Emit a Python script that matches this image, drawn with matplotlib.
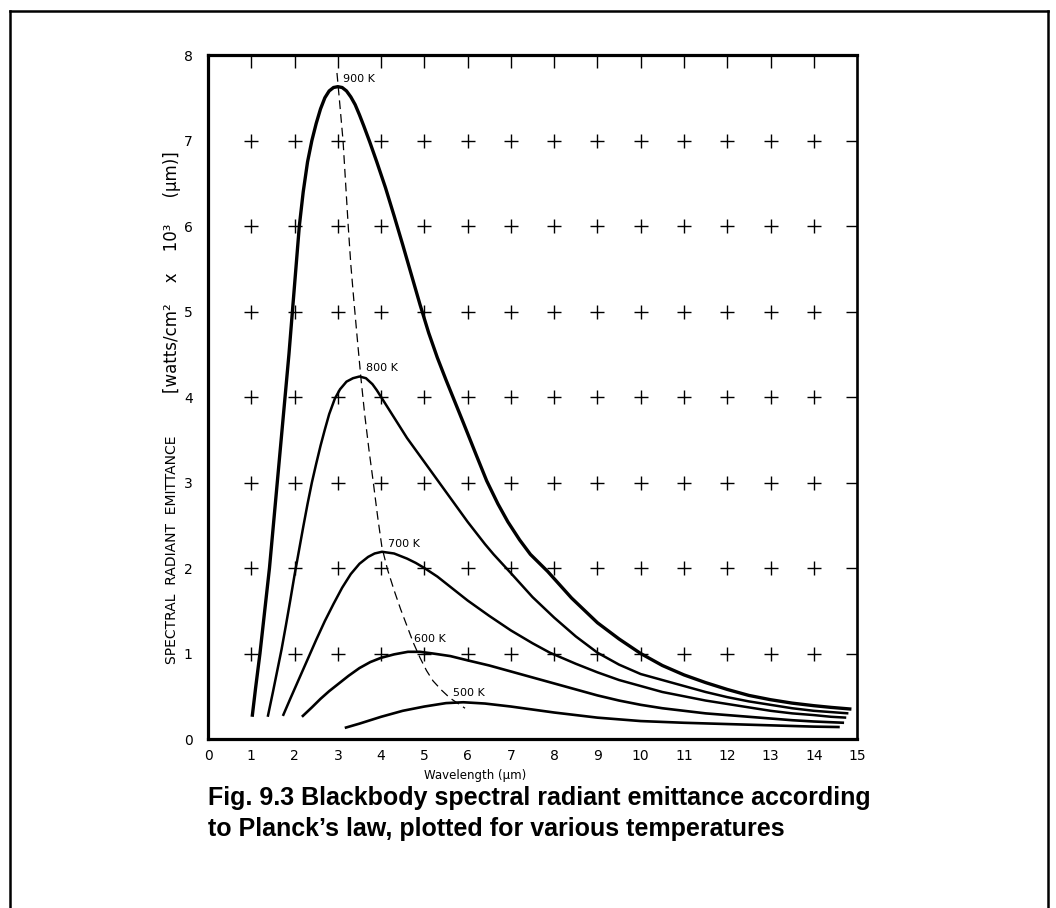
import numpy as np
import matplotlib
matplotlib.use("Agg")
import matplotlib.pyplot as plt
from matplotlib.lines import Line2D

# curves (wavelength in um, emittance)
x900 = [1.02, 1.10, 1.20, 1.31, 1.42, 1.51, 1.60, 1.69, 1.78, 1.87, 1.95, 2.03, 2.11, 2.20,
        2.30, 2.40, 2.50, 2.60, 2.70, 2.80, 2.90, 3.00, 3.10, 3.20, 3.30, 3.40, 3.50, 3.60,
        3.74, 3.90, 4.10, 4.30, 4.50, 4.70, 4.90, 5.10, 5.30, 5.50, 5.66, 5.90, 6.20, 6.44,
        6.70, 6.93, 7.20, 7.45, 7.85, 8.40, 9.00, 9.50, 10.0, 10.5, 11.0, 11.5, 12.0, 12.5,
        13.0, 13.5, 14.0, 14.4, 14.87]
y900 = [0.26, 0.60, 1.00, 1.50, 2.00, 2.50, 3.00, 3.50, 4.00, 4.50, 5.00, 5.50, 6.00, 6.40,
        6.75, 7.00, 7.20, 7.37, 7.50, 7.58, 7.62, 7.63, 7.62, 7.58, 7.51, 7.42, 7.30, 7.17,
        6.98, 6.75, 6.45, 6.12, 5.78, 5.43, 5.08, 4.75, 4.46, 4.20, 4.00, 3.70, 3.32, 3.02,
        2.75, 2.54, 2.33, 2.16, 1.96, 1.65, 1.36, 1.17, 1.00, 0.86, 0.75, 0.66, 0.58, 0.51,
        0.46, 0.42, 0.39, 0.37, 0.35]

x800 = [1.38, 1.50, 1.60, 1.70, 1.80, 1.90, 2.00, 2.10, 2.20, 2.30, 2.40, 2.50, 2.60, 2.70,
        2.80, 2.93, 3.05, 3.20, 3.35, 3.50, 3.65, 3.80, 3.90, 4.00, 4.20, 4.40, 4.60, 4.80,
        5.00, 5.20, 5.40, 5.60, 5.80, 6.00, 6.20, 6.40, 6.60, 7.00, 7.50, 8.00, 8.50, 9.00,
        9.50, 10.0, 10.5, 11.0, 11.5, 12.0, 12.5, 13.0, 13.5, 14.0, 14.4, 14.8]
y800 = [0.26, 0.55, 0.80, 1.05, 1.33, 1.62, 1.92, 2.20, 2.48, 2.75, 3.00, 3.22, 3.43, 3.62,
        3.80, 3.98, 4.09, 4.18, 4.22, 4.24, 4.22, 4.15, 4.08, 4.00, 3.84, 3.68, 3.52, 3.38,
        3.24, 3.10, 2.96, 2.82, 2.68, 2.54, 2.41, 2.28, 2.16, 1.94, 1.66, 1.42, 1.20, 1.01,
        0.87, 0.76, 0.69, 0.62, 0.55, 0.49, 0.44, 0.40, 0.36, 0.33, 0.315, 0.30]

x700 = [1.73, 1.90, 2.10, 2.30, 2.50, 2.70, 2.90, 3.10, 3.30, 3.50, 3.70, 3.85, 4.02, 4.30,
        4.60, 4.80, 5.00, 5.30, 5.60, 6.00, 6.50, 7.00, 7.50, 7.90, 8.50, 9.00, 9.50, 10.0,
        10.5, 11.0, 11.5, 12.0, 12.5, 13.0, 13.5, 14.0, 14.4, 14.75]
y700 = [0.27, 0.47, 0.70, 0.93, 1.16, 1.38, 1.58, 1.77, 1.93, 2.05, 2.13, 2.17, 2.19, 2.17,
        2.11, 2.06, 2.00, 1.90, 1.78, 1.62, 1.44, 1.27, 1.12, 1.01, 0.88, 0.78, 0.69, 0.62,
        0.55, 0.50, 0.45, 0.41, 0.37, 0.33, 0.30, 0.28, 0.26, 0.25]

x600 = [2.17, 2.40, 2.60, 2.80, 3.00, 3.25, 3.50, 3.75, 4.00, 4.30, 4.62, 4.90, 5.20, 5.60,
        6.00, 6.50, 7.00, 7.50, 8.00, 8.50, 9.00, 9.50, 10.0, 10.5, 11.0, 11.5, 12.0, 12.5,
        13.0, 13.5, 14.0, 14.7]
y600 = [0.26, 0.37, 0.47, 0.56, 0.64, 0.74, 0.83, 0.90, 0.95, 0.99, 1.02, 1.02, 1.00, 0.97,
        0.92, 0.86, 0.79, 0.72, 0.65, 0.58, 0.51, 0.45, 0.40, 0.36, 0.33, 0.30, 0.28, 0.26,
        0.24, 0.22, 0.205, 0.19]

x500 = [3.16, 3.50, 4.00, 4.50, 5.00, 5.50, 5.90, 6.40, 7.00, 7.50, 8.00, 8.50, 9.00, 9.50,
        10.0, 10.5, 11.0, 12.0, 13.0, 14.0, 14.6]
y500 = [0.13, 0.18, 0.26, 0.33, 0.38, 0.42, 0.43, 0.415, 0.38, 0.345, 0.31, 0.28, 0.25, 0.23,
        0.21, 0.20, 0.19, 0.175, 0.16, 0.145, 0.14]

# locus of the maxima (dashed)
x_peak = [2.98, 3.05, 3.12, 3.18, 3.24, 3.30, 3.37, 3.45, 3.53, 3.62, 3.72, 3.82, 3.92, 4.02,
          4.15, 4.30, 4.45, 4.60, 4.75, 4.90, 5.05, 5.20, 5.40, 5.59, 5.94]
y_peak = [7.79, 7.40, 7.00, 6.50, 6.00, 5.55, 5.13, 4.68, 4.24, 3.80, 3.38, 3.00, 2.60, 2.24,
          1.98, 1.74, 1.52, 1.32, 1.12, 0.95, 0.80, 0.68, 0.57, 0.48, 0.36]

temps = ["900 K", "800 K", "700 K", "600 K", "500 K"]
label_x = [3.12, 3.65, 4.16, 4.76, 5.66]
label_y = [7.72, 4.34, 2.28, 1.17, 0.54]

xticks = list(range(0, 16))
yticks = list(range(0, 9))

fig = plt.figure(figsize=(10.56, 9.08), dpi=100)
ax = fig.add_axes([0.197, 0.1861, 0.6146, 0.7533])

# crosses at the inner grid points
gx, gy = np.meshgrid(range(1, 15), range(1, 8))
ax.scatter(gx.ravel(), gy.ravel(), marker="+", s=90, c="black", linewidths=1.0, zorder=2)

curves = [(x900, y900, 2.4), (x800, y800, 1.8), (x700, y700, 1.8), (x600, y600, 1.9), (x500, y500, 1.9)]
for xs, ys, lw in curves:
    ax.plot(xs, ys, color="black", lw=lw, solid_capstyle="butt", solid_joinstyle="round", zorder=3)

ax.plot(x_peak, y_peak, color="black", lw=0.9, ls=(0, (7, 4)), zorder=3)

for t, lx, ly in zip(temps, label_x, label_y):
    ax.text(lx, ly, t, fontsize=8, va="center", ha="left")

ax.set_xlim(0, 15)
ax.set_ylim(0, 8)

for side in ["left", "bottom", "top"]:
    ax.spines[side].set_linewidth(2.3)
ax.spines["right"].set_linewidth(1.9)

# labels on major ticks, tick marks as minor ticks
ax.set_xticks(xticks)
ax.set_yticks(yticks)
ax.tick_params(axis="x", which="major", length=0, pad=7, labelsize=10)
ax.tick_params(axis="y", which="major", length=0, pad=11, labelsize=10)
ax.set_xticks(range(1, 15), minor=True)
ax.set_yticks(range(1, 8), minor=True)
ax.tick_params(axis="both", which="minor", direction="inout", length=16, width=1.0)

top = ax.secondary_xaxis("top")
top.set_xticks(range(1, 15))
top.tick_params(direction="in", length=9, width=1.0, labeltop=False)
top.spines["top"].set_visible(False)
right = ax.secondary_yaxis("right")
right.set_yticks(range(1, 8))
right.tick_params(direction="in", length=8, width=1.0, labelright=False)
right.spines["right"].set_visible(False)

fig.text(0.45, 0.146, "Wavelength (\u03bcm)", fontsize=8.5, ha="center", va="center")
fig.text(0.163, 0.394, "SPECTRAL  RADIANT  EMITTANCE", fontsize=10, rotation=90,
         ha="center", va="center")
fig.text(0.163, 0.70, "[watts/cm\u00b2    x    10\u00b3     (\u03bcm)]", fontsize=12, rotation=90,
         ha="center", va="center")

fig.text(0.197, 0.1344,
         "Fig. 9.3 Blackbody spectral radiant emittance according\n"
         "to Planck\u2019s law, plotted for various temperatures",
         fontsize=18, fontweight="bold", family="Liberation Sans",
         ha="left", va="top", linespacing=1.38)

# page frame around the figure
fig.add_artist(Line2D([0.0095, 0.0095], [0.0, 0.988], color="black", lw=1.8, transform=fig.transFigure))
fig.add_artist(Line2D([0.0095, 0.9924], [0.988, 0.988], color="black", lw=1.8, transform=fig.transFigure))
fig.add_artist(Line2D([0.9924, 0.9924], [0.0, 0.988], color="black", lw=1.8, transform=fig.transFigure))

fig.savefig("out.png", dpi=100)
